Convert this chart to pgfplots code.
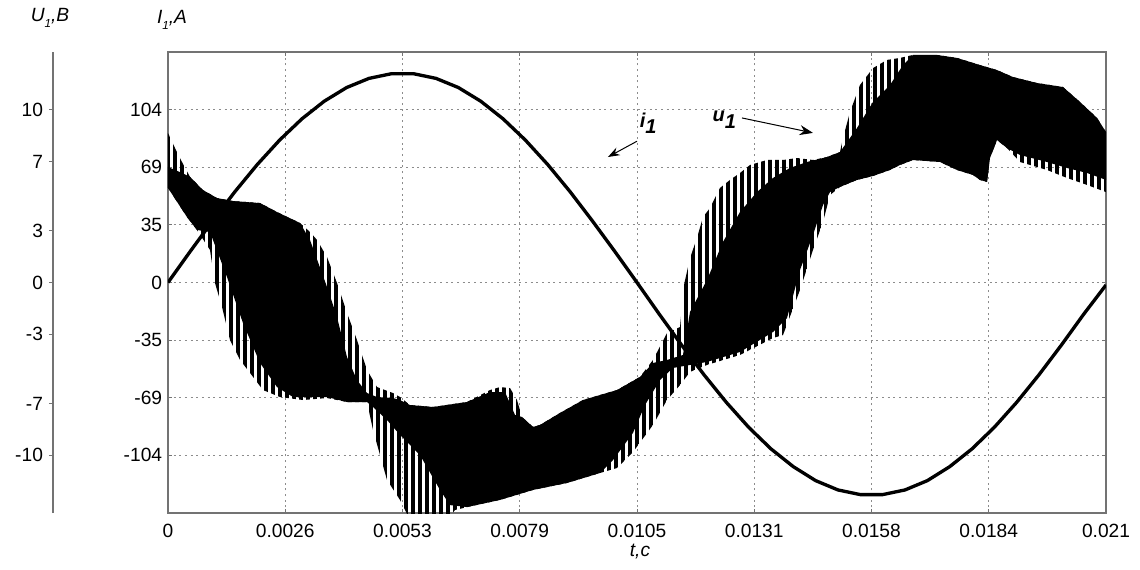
\documentclass[border=0pt]{standalone}
\usepackage{fontspec}
\setmainfont{Liberation Sans}
\usepackage{pgfplots}
\pgfplotsset{compat=1.18}
\usetikzlibrary{patterns.meta,arrows.meta}
\definecolor{framegray}{gray}{0.45}
\definecolor{gridgray}{gray}{0.55}

% outer envelope of u1 (spike tips): upper, then lower (right to left)
\pgfplotstableread{
t I
0 89.9
0.000157 80.9
0.000313 72.5
0.000493 63.5
0.000784 55.6
0.001097 50.8
0.001455 49.0
0.002060 47.8
0.002440 42.4
0.002955 35.8
0.003179 30.4
0.003336 25.6
0.003560 15.3
0.003784 -0.3
0.004007 -18.3
0.004231 -34.6
0.004455 -52.6
0.004679 -62.9
0.005037 -66.5
0.005194 -68.9
0.005418 -73.7
0.005933 -74.9
0.006694 -71.9
0.007209 -64.7
0.007433 -62.9
0.007657 -63.5
0.007813 -70.7
0.007925 -80.9
0.008172 -86.9
0.008328 -85.7
0.008776 -78.5
0.009291 -70.7
0.010052 -64.7
0.010567 -56.8
0.010858 -46.6
0.011172 -30.4
0.011463 -26.8
0.011552 -1.5
0.011687 14.7
0.011843 26.8
0.011978 39.4
0.012134 44.8
0.012358 56.9
0.012582 61.7
0.012806 65.9
0.013030 70.7
0.013410 73.7
0.013769 73.7
0.014082 74.9
0.014440 73.7
0.014754 75.5
0.015045 78.5
0.015112 86.9
0.015269 102.6
0.015492 118.8
0.015784 129.0
0.016097 133.9
0.016388 135.1
0.016679 136.9
0.017216 136.9
0.017664 135.1
0.018179 130.8
0.018560 127.8
0.018918 123.6
0.019455 120.0
0.020037 117.6
0.020418 108.6
0.020799 99.0
0.021 90.5
0.021 54.4
0.020575 58.7
0.020127 62.9
0.019679 67.7
0.019075 72.5
0.018784 80.9
0.018560 85.7
0.018403 74.9
0.018336 60.5
0.018179 61.7
0.018022 64.7
0.017664 67.7
0.017284 72.5
0.016679 73.7
0.016388 70.7
0.016164 67.7
0.015784 64.1
0.015425 61.7
0.015045 57.5
0.014821 52.6
0.014664 36.4
0.014440 19.6
0.014149 -4.5
0.013769 -31.6
0.013545 -33.4
0.012806 -43.6
0.012067 -49.6
0.011687 -53.8
0.011463 -61.7
0.011172 -70.7
0.010858 -85.7
0.010410 -102.0
0.010052 -111.6
0.009672 -114.6
0.008933 -120.6
0.008172 -124.8
0.007433 -130.8
0.006694 -135.1
0.006425 -136.9
0.006246 -142.9
0.005418 -142.9
0.005194 -130.8
0.004903 -118.8
0.004590 -88.7
0.004455 -71.9
0.004007 -71.9
0.003560 -69.5
0.003022 -70.7
0.002507 -68.9
0.002127 -64.7
0.001836 -54.4
0.001612 -46.6
0.001388 -34.6
0.001209 -14.7
0.001052 -0.3
0.000940 19.6
0.000649 31.6
0.000425 39.4
0 56.9
}\uouter

% solid core of u1: upper, then lower (right to left)
\pgfplotstableread{
t I
0 69.5
0.000157 67.7
0.000313 65.9
0.000493 63.5
0.000784 55.6
0.001097 50.8
0.001455 49.0
0.002060 47.8
0.002440 42.4
0.002955 35.8
0.003179 25.6
0.003560 -2.7
0.003784 -20.8
0.004007 -44.8
0.004231 -58.7
0.004455 -66.5
0.004679 -68.9
0.005037 -69.5
0.005194 -70.7
0.005418 -73.7
0.005933 -74.9
0.006694 -71.9
0.007209 -65.9
0.007545 -65.9
0.007769 -79.7
0.007925 -80.9
0.008172 -86.9
0.008328 -85.7
0.008776 -78.5
0.009291 -70.7
0.010052 -64.7
0.010567 -56.8
0.010858 -48.4
0.011172 -46.6
0.011530 -43.6
0.011687 -17.7
0.012067 1.5
0.012425 24.4
0.012806 42.4
0.013186 54.4
0.013545 62.9
0.013925 68.9
0.014306 72.5
0.014754 75.5
0.015045 78.5
0.015425 92.9
0.015784 108.6
0.016164 118.8
0.016455 130.8
0.016679 136.9
0.017216 136.9
0.017664 135.1
0.018179 130.8
0.018560 127.8
0.018918 123.6
0.019455 120.0
0.020037 117.6
0.020418 108.6
0.020799 99.0
0.021 90.5
0.021 61.7
0.020575 65.9
0.020127 68.9
0.019679 72.5
0.019075 76.7
0.018784 80.9
0.018560 85.7
0.018403 74.9
0.018336 60.5
0.018179 61.7
0.018022 64.7
0.017664 67.7
0.017284 72.5
0.016679 73.7
0.016388 70.7
0.016164 67.7
0.015784 64.1
0.015425 61.7
0.015045 57.5
0.014821 54.4
0.014664 46.6
0.014440 28.6
0.014149 7.5
0.013858 -21.4
0.013545 -29.8
0.012806 -41.8
0.012067 -47.8
0.011306 -51.4
0.011015 -58.7
0.010679 -73.7
0.010410 -90.5
0.009963 -106.8
0.009672 -114.6
0.008933 -120.6
0.008172 -124.8
0.007433 -130.8
0.006694 -135.1
0.006313 -133.9
0.006090 -124.8
0.005642 -103.8
0.005194 -91.7
0.004903 -82.7
0.004590 -74.9
0.004455 -71.9
0.004007 -71.9
0.003560 -68.9
0.002799 -68.9
0.002440 -62.9
0.002060 -48.4
0.001679 -24.4
0.001321 3.3
0.000940 30.4
0.000649 31.6
0.000425 39.4
0 56.9
}\ucore

% current i1
\pgfplotstableread{
t I
0 0
0.0005 18.8
0.0010 37.1
0.0015 54.7
0.0020 71.0
0.0025 85.7
0.0030 98.5
0.0035 109.1
0.0040 117.3
0.0045 122.8
0.0050 125.6
0.0055 125.6
0.0060 122.8
0.0065 117.3
0.0070 109.1
0.0075 98.5
0.0080 85.7
0.0085 71.0
0.0090 54.7
0.0095 37.1
0.0100 18.8
0.0105 0
0.0110 -19.1
0.0115 -37.7
0.0120 -55.5
0.0125 -72.1
0.0130 -87.1
0.0135 -100.1
0.0140 -110.8
0.0145 -119.2
0.0150 -124.8
0.0155 -127.6
0.0160 -127.6
0.0165 -124.8
0.0170 -119.2
0.0175 -110.8
0.0180 -100.1
0.0185 -87.1
0.0190 -72.1
0.0195 -55.5
0.0200 -37.7
0.0205 -19.1
0.0210 -1.5
}\icur

\begin{document}
\begin{tikzpicture}[x=0.6pt,y=0.6pt]
\path[use as bounding box] (0,0) rectangle (1140,569);

% voltage axis U1
\begin{axis}[
  at={(31.8pt,33.6pt)}, anchor=south west, scale only axis,
  width=1pt, height=276.6pt,
  xmin=0, xmax=1, ymin=-13.333, ymax=13.333,
  hide x axis, axis y line*=left,
  axis line style={framegray, line width=0.7pt},
  ytick={-10,-7,-3,0,3,7,10},
  yticklabels={-10,-7,-3,0,3,7,10},
  tick style={framegray, line width=0.6pt},
  major tick length=2.5pt, tick align=outside,
  ticklabel style={font=\fontsize{11.5}{13}\selectfont},
]
\end{axis}

\begin{axis}[
  at={(100.8pt,33.6pt)}, anchor=south west, scale only axis,
  width=562.8pt, height=276.6pt,
  xmin=0, xmax=0.021, ymin=-138.67, ymax=138.67,
  scaled x ticks=false, scaled y ticks=false,
  xtick={0,0.002625,0.00525,0.007875,0.0105,0.013125,0.01575,0.018375,0.021},
  xticklabels={0,0.0026,0.0053,0.0079,0.0105,0.0131,0.0158,0.0184,0.021},
  ytick={-104,-69.333,-34.667,0,34.667,69.333,104},
  yticklabels={-104,-69,-35,0,35,69,104},
  grid=major,
  grid style={gridgray, line width=0.6pt, dash pattern=on 1.2pt off 2.2pt},
  axis line style={framegray, line width=0.7pt},
  tick style={framegray, line width=0.6pt},
  major tick length=2.5pt, tick align=inside,
  ticklabel style={font=\fontsize{11.5}{13}\selectfont},
  xticklabel style={yshift=-3pt},
]
\addplot[draw=none, pattern={Lines[angle=90,distance=4.2pt,line width=2.6pt]}, pattern color=black] table[x=t,y=I] {\uouter};
\addplot[draw=none, fill=black] table[x=t,y=I] {\ucore};
\addplot[black, line width=2pt] table[x=t,y=I] {\icur};

\node[font=\fontsize{12}{14}\selectfont\bfseries\itshape, anchor=center] at (axis cs:0.01075,96) {i\raisebox{-0.6ex}{1}};
\draw[-{Stealth[length=7pt,width=5pt]}, line width=0.6pt] (axis cs:0.0105,85) -- (axis cs:0.00985,75.5);
\node[font=\fontsize{12}{14}\selectfont\bfseries\itshape, anchor=east] at (axis cs:0.01285,98) {u\raisebox{-0.6ex}{1}};
\draw[-{Stealth[length=8pt,width=6pt]}, line width=0.6pt] (axis cs:0.01285,99) -- (axis cs:0.01444,90);
\end{axis}

\node[font=\fontsize{11.5}{13}\selectfont\itshape] at (50,551) {U\raisebox{-0.6ex}{\scriptsize 1},B};
\node[font=\fontsize{11.5}{13}\selectfont\itshape] at (172,549) {I\raisebox{-0.6ex}{\scriptsize 1},A};
\node[font=\fontsize{11.5}{13}\selectfont\itshape] at (640,17) {t,c};
\end{tikzpicture}
\end{document}
